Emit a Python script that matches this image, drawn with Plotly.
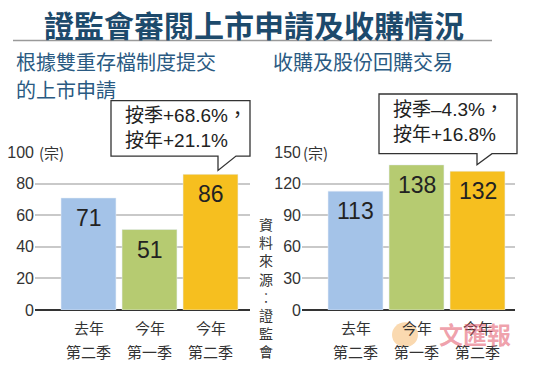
import plotly.graph_objects as go

W, H = 550, 382

cat_line1 = ["去年", "今年", "今年"]
cat_line2 = ["第二季", "第一季", "第二季"]
listing_values = [71, 51, 86]
acq_values = [113, 138, 132]
listing_ticks = [0, 20, 40, 60, 80, 100]
acq_ticks = [0, 30, 60, 90, 120, 150]
bar_colors = ["#a4c3e8", "#b6cb71", "#f6bf1f"]
title = "證監會審閱上市申請及收購情況"
sub_left = ["根據雙重存檔制度提交", "的上市申請"]
sub_right = "收購及股份回購交易"
callout_left = "按季+68.6%，<br>按年+21.1%"
callout_right = "按季–4.3%，<br>按年+16.8%"
source = "資料來源︰證監會"
unit = "(宗)"

def X(px):
    return px / W

def Y(py):
    return 1 - py / H

NUM = "Liberation Sans, Arial, sans-serif"
CJK = "Noto Sans CJK TC, sans-serif"
MIX = "Liberation Sans, Noto Sans CJK TC, sans-serif"

xs = list(range(len(cat_line1)))
fig = go.Figure()
fig.add_trace(go.Bar(x=xs, y=listing_values, marker_color=bar_colors, width=0.9,
                     xaxis="x", yaxis="y", hoverinfo="skip"))
fig.add_trace(go.Bar(x=xs, y=acq_values, marker_color=bar_colors, width=0.9,
                     xaxis="x2", yaxis="y2", hoverinfo="skip"))

pitch = 61.0
def xrange(axis_l, axis_r, first_center):
    return [(axis_l - first_center) / pitch, (axis_r - first_center) / pitch]

ydom = [Y(316), Y(151)]
common_x = dict(tickvals=xs, showticklabels=False, showgrid=False, zeroline=False,
                showline=False, ticks="", fixedrange=True)
common_y = dict(domain=ydom, showgrid=True, gridcolor="#c9c9c9", gridwidth=1.5,
                zeroline=True, zerolinecolor="#333", zerolinewidth=2, showline=False,
                ticks="", tickfont=dict(family=NUM, size=16, color="#333"), fixedrange=True)

fig.update_layout(
    width=W, height=H, margin=dict(l=0, r=0, t=0, b=0),
    paper_bgcolor="white", plot_bgcolor="white", showlegend=False,
    xaxis=dict(domain=[X(35), X(250)], range=xrange(35, 250, 88.5), anchor="y", **common_x),
    yaxis=dict(range=[0, 100], tickvals=listing_ticks, anchor="x", **common_y),
    xaxis2=dict(domain=[X(302), X(515)], range=xrange(302, 515, 355.5), anchor="y2", **common_x),
    yaxis2=dict(range=[0, 150], tickvals=acq_ticks, anchor="x2", **common_y),
)

ann = []
# value labels and category labels
for xr, yr, vals in (("x", "y", listing_values), ("x2", "y2", acq_values)):
    for i, v in enumerate(vals):
        ann.append(dict(x=i, y=v, xref=xr, yref=yr, text=str(v), showarrow=False,
                        yanchor="middle", yshift=-20, font=dict(family=NUM, size=23, color="#222")))
        ann.append(dict(x=i, y=0, xref=xr, yref=yr, text=cat_line1[i], showarrow=False,
                        yanchor="middle", yshift=-17, height=22,
                        font=dict(family=CJK, size=15, color="#333")))
        ann.append(dict(x=i, y=0, xref=xr, yref=yr, text=cat_line2[i], showarrow=False,
                        yanchor="middle", yshift=-41, height=22,
                        font=dict(family=CJK, size=15, color="#333")))
# unit labels
for ux in (36, 300):
    ann.append(dict(x=X(ux), y=Y(151), xref="paper", yref="paper", text=unit, showarrow=False,
                    xanchor="left", yanchor="middle", bgcolor="white", borderpad=2,
                    font=dict(family=CJK, size=15, color="#333")))
# title
ann.append(dict(x=X(254), y=Y(17), xref="paper", yref="paper", text="<b>" + title + "</b>",
                showarrow=False, xanchor="center", yanchor="middle",
                font=dict(family=CJK, size=30, color="#1d4a6c")))
# subtitles
ann.append(dict(x=X(14), y=Y(56), xref="paper", yref="paper", text=sub_left[0], showarrow=False,
                xanchor="left", yanchor="middle", font=dict(family=CJK, size=20, color="#2a5a82")))
ann.append(dict(x=X(14), y=Y(85), xref="paper", yref="paper", text=sub_left[1], showarrow=False,
                xanchor="left", yanchor="middle", font=dict(family=CJK, size=20, color="#2a5a82")))
ann.append(dict(x=X(271), y=Y(56), xref="paper", yref="paper", text=sub_right, showarrow=False,
                xanchor="left", yanchor="middle", font=dict(family=CJK, size=20, color="#2a5a82")))
# callout texts
ann.append(dict(x=X(123), y=Y(126), xref="paper", yref="paper", text=callout_left, showarrow=False,
                xanchor="left", yanchor="middle", align="left",
                font=dict(family=MIX, size=19, color="#222")))
ann.append(dict(x=X(391), y=Y(119), xref="paper", yref="paper", text=callout_right, showarrow=False,
                xanchor="left", yanchor="middle", align="left",
                font=dict(family=MIX, size=19, color="#222")))
# vertical source text (one character per line)
ann.append(dict(x=X(266), y=Y(292), xref="paper", yref="paper", text="<br>".join(source),
                showarrow=False, xanchor="center", yanchor="middle", align="center",
                font=dict(family=CJK, size=14, color="#333")))
# watermark
ann.append(dict(x=X(475), y=Y(341), xref="paper", yref="paper", text="<b>文匯報</b>",
                showarrow=False, xanchor="center", yanchor="middle",
                font=dict(family=CJK, size=24, color="rgba(226,80,100,0.55)")))
fig.update_layout(annotations=ann)

def callout(l, t, r, b, pl, pr, tipx, tipy):
    return (f"M {X(l)},{Y(t)} L {X(r)},{Y(t)} L {X(r)},{Y(b)} L {X(pr)},{Y(b)} "
            f"L {X(tipx)},{Y(tipy)} L {X(pl)},{Y(b)} L {X(l)},{Y(b)} Z")

shapes = [
    dict(type="line", xref="paper", yref="paper", x0=X(13), x1=X(492), y0=Y(34), y1=Y(34),
         line=dict(color="#9a9a9a", width=1.5)),
    dict(type="path", xref="paper", yref="paper",
         path=callout(111, 97, 250, 155, 218, 236, 218, 170),
         fillcolor="white", line=dict(color="#333", width=1.3)),
    dict(type="path", xref="paper", yref="paper",
         path=callout(379, 90, 517, 152.5, 477, 492, 477, 164),
         fillcolor="white", line=dict(color="#333", width=1.3)),
    dict(type="circle", xref="paper", yref="paper", x0=X(392), x1=X(418), y0=Y(329), y1=Y(355),
         fillcolor="rgba(245,170,80,0.45)", line=dict(width=0)),
]
fig.update_layout(shapes=shapes)

fig.write_html("out.html", config={"displayModeBar": False},
               post_script="document.body.style.margin='0px';")
